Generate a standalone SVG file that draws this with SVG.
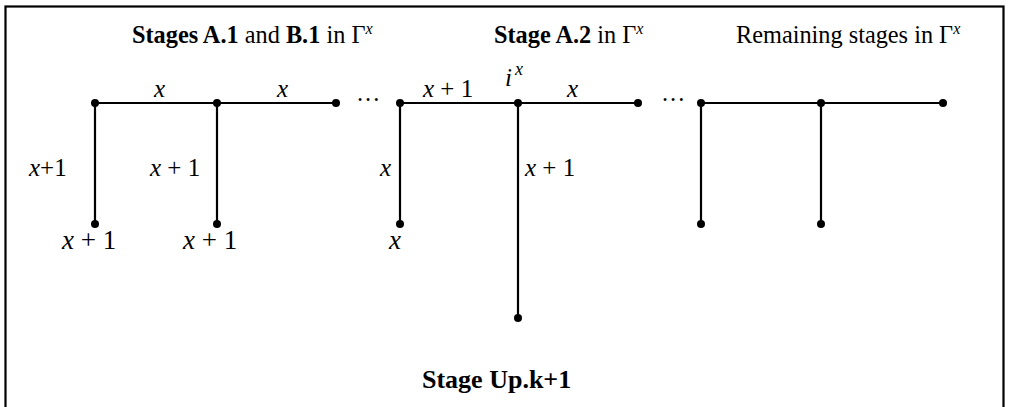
<svg xmlns="http://www.w3.org/2000/svg" width="1009" height="407" viewBox="0 0 1009 407">
<style>
text{font-family:"Liberation Serif","Times New Roman",serif;fill:#000}
.t{font-size:24.3px}
.b{font-weight:bold}
.m{font-size:25px}
.l{font-size:27px}
.i{font-style:italic}
.sup{font-size:16px;font-style:italic}
.e{stroke:#000;stroke-width:2.2;fill:none}
.d{fill:#000}
</style>
<rect x="5.5" y="6.5" width="998" height="420" fill="#fff" stroke="#000" stroke-width="2.2"/>
<g id="titles">
<text class="t" x="132" y="43"><tspan class="b">Stages A.1</tspan> and <tspan class="b">B.1</tspan> in Γ<tspan class="sup" dy="-9">x</tspan></text>
<text class="t" x="494" y="43"><tspan class="b">Stage A.2</tspan> in Γ<tspan class="sup" dy="-9">x</tspan></text>
<text class="t" x="736" y="43">Remaining stages in Γ<tspan class="sup" dy="-9">x</tspan></text>
<text class="t b" x="422" y="388" style="font-size:26px">Stage Up.k+1</text>
</g>
<g id="connectors">
<path class="e" d="M95 103H336M95 103V224M217 103V224"/>
<path class="e" d="M400 103H638M400 103V224M518 103V318"/>
<path class="e" d="M701 103H943M701 103V224M821 103V224"/>
</g>
<g id="ellipses">
<text class="t" x="356" y="108">···</text>
<text class="t" x="661" y="108">···</text>
</g>
<g id="n1"><circle class="d" cx="95" cy="103" r="4"/></g>
<g id="n2"><circle class="d" cx="217" cy="103" r="4"/></g>
<g id="n3"><circle class="d" cx="336" cy="103" r="4"/></g>
<g id="n4"><circle class="d" cx="95" cy="224" r="4"/></g>
<g id="n5"><circle class="d" cx="217" cy="224" r="4"/></g>
<g id="n6"><circle class="d" cx="400" cy="103" r="4"/></g>
<g id="n7"><circle class="d" cx="518" cy="103" r="4"/></g>
<g id="n8"><circle class="d" cx="638" cy="103" r="4"/></g>
<g id="n9"><circle class="d" cx="400" cy="224" r="4"/></g>
<g id="n10"><circle class="d" cx="518" cy="318" r="4"/></g>
<g id="n11"><circle class="d" cx="701" cy="103" r="4"/></g>
<g id="n12"><circle class="d" cx="821" cy="103" r="4"/></g>
<g id="n13"><circle class="d" cx="943" cy="103" r="4"/></g>
<g id="n14"><circle class="d" cx="701" cy="224" r="4"/></g>
<g id="n15"><circle class="d" cx="821" cy="224" r="4"/></g>
<g id="labels">
<text class="m i" x="154" y="97">x</text>
<text class="m i" x="277" y="97">x</text>
<text class="m" x="423" y="97"><tspan class="i">x</tspan> + 1</text>
<text class="m" x="505" y="86"><tspan class="i">i</tspan><tspan class="sup" style="font-size:18px" dy="-11" dx="3">x</tspan></text>
<text class="m i" x="567" y="97">x</text>
<text class="m" x="29" y="176"><tspan class="i">x</tspan>+1</text>
<text class="m" x="150" y="176"><tspan class="i">x</tspan> + 1</text>
<text class="m i" x="380" y="176">x</text>
<text class="m" x="525" y="176"><tspan class="i">x</tspan> + 1</text>
<text class="l" x="62" y="249"><tspan class="i">x</tspan> + 1</text>
<text class="l" x="183" y="249"><tspan class="i">x</tspan> + 1</text>
<text class="l i" x="389" y="249">x</text>
</g>
</svg>
